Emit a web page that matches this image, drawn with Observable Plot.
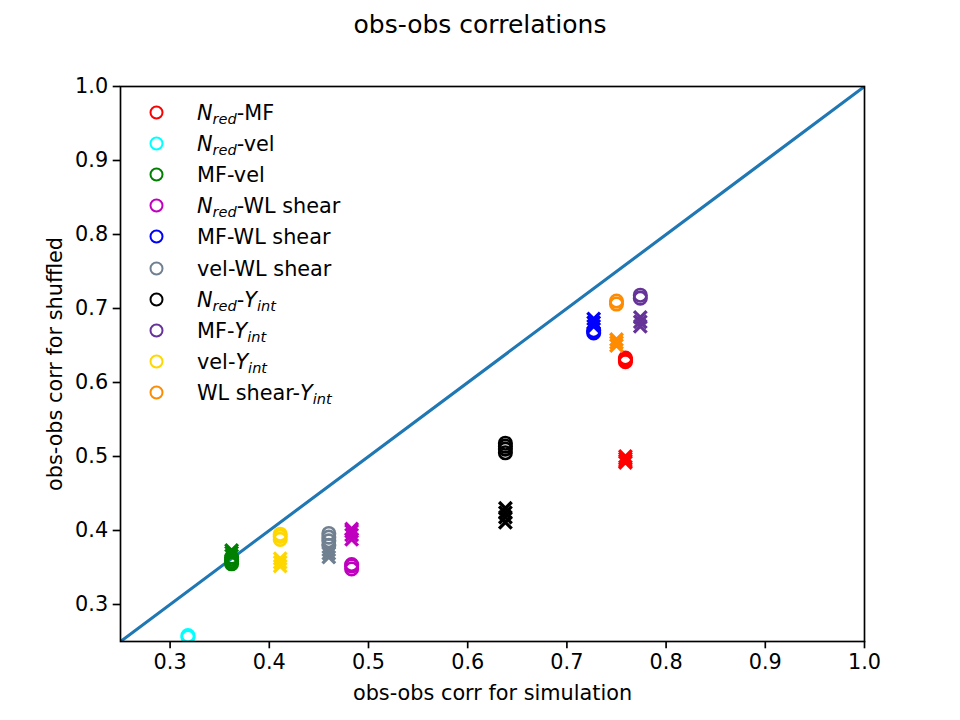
<!DOCTYPE html>
<html>
<head>
<meta charset="utf-8">
<script src="https://cdn.jsdelivr.net/npm/d3@7"></script>
<script src="https://cdn.jsdelivr.net/npm/@observablehq/plot@0.6"></script>
<style>
  body { margin: 0; background: #fff; }
  #wrap { position: relative; width: 960px; height: 720px; font-family: "DejaVu Sans", sans-serif; color: #000; }
  #title { position: absolute; left: 0; width: 960px; top: 12px; text-align: center; font-size: 25px; line-height: 1; }
  #legend { position: absolute; left: 0; top: 0; }
  .row { position: absolute; height: 30px; display: flex; align-items: center; font-size: 20.8px; white-space: nowrap; }
  .row svg { position: absolute; }
  .row span.t { position: absolute; left: 47px; }
  .row sub { font-size: 70%; font-style: italic; vertical-align: -0.3em; line-height: 0; }
</style>
</head>
<body>
<div id="wrap">
  <div id="chart"></div>
  <div id="title">obs-obs correlations</div>
  <div id="legend"></div>
</div>
<script>
// ---- data ----
const seriesLabels = ["N_red-MF", "N_red-vel", "MF-vel", "N_red-WL shear", "MF-WL shear", "vel-WL shear", "N_red-Y_int", "MF-Y_int", "vel-Y_int", "WL shear-Y_int"];
const seriesHtml = [
  "<i>N</i><sub>red</sub>-MF",
  "<i>N</i><sub>red</sub>-vel",
  "MF-vel",
  "<i>N</i><sub>red</sub>-WL shear",
  "MF-WL shear",
  "vel-WL shear",
  "<i>N</i><sub>red</sub>-<i>Y</i><sub>int</sub>",
  "MF-<i>Y</i><sub>int</sub>",
  "vel-<i>Y</i><sub>int</sub>",
  "WL shear-<i>Y</i><sub>int</sub>"
];
const seriesColors = ["#ff0000", "#00ffff", "#008000", "#bf00bf", "#0000ff", "#708090", "#000000", "#663399", "#ffd700", "#ff8c00"];
// simulation correlation (x) for each pair
const simCorr = [0.759, 0.318, 0.362, 0.483, 0.727, 0.460, 0.638, 0.774, 0.411, 0.750];
// shuffled correlations shown as circles
const shuffledCircles = [
  [0.628, 0.631, 0.633, 0.630],
  [0.256, 0.258],
  [0.355, 0.358, 0.361, 0.364],
  [0.348, 0.352, 0.354],
  [0.667, 0.670],
  [0.380, 0.386, 0.391, 0.396],
  [0.505, 0.510, 0.514, 0.518],
  [0.714, 0.718],
  [0.388, 0.392, 0.395],
  [0.706, 0.710]
];
// shuffled correlations shown as crosses
const shuffledCrosses = [
  [0.492, 0.497, 0.500, 0.494],
  [],
  [0.366, 0.370, 0.373],
  [0.388, 0.394, 0.399, 0.402],
  [0.676, 0.681, 0.686],
  [0.364, 0.369, 0.374],
  [0.411, 0.418, 0.424, 0.430],
  [0.676, 0.682, 0.688],
  [0.352, 0.357, 0.362],
  [0.650, 0.654, 0.658]
];
const axisDomain = [0.25, 1.0];
const tickValues = [0.3, 0.4, 0.5, 0.6, 0.7, 0.8, 0.9, 1.0];

// ---- tables ----
const circles = [], crosses = [];
seriesLabels.forEach((s, i) => {
  shuffledCircles[i].forEach(v => circles.push({series: s, x: simCorr[i], y: v}));
  shuffledCrosses[i].forEach(v => crosses.push({series: s, x: simCorr[i], y: v}));
});

const fmt = d3.format(".1f");
const chart = Plot.plot({
  width: 960,
  height: 720,
  marginLeft: 120,
  marginRight: 96,
  marginTop: 86,
  marginBottom: 79,
  style: {fontFamily: "DejaVu Sans", fontSize: "20.8px", background: "#fff", color: "#000"},
  x: {domain: axisDomain},
  y: {domain: axisDomain},
  color: {domain: seriesLabels, range: seriesColors},
  marks: [
    Plot.line(axisDomain, {x: d => d, y: d => d, stroke: "#1f77b4", strokeWidth: 3.1, clip: true}),
    Plot.dot(circles, {x: "x", y: "y", stroke: "series", fill: "none", r: 6.25, strokeWidth: 2.6, clip: true}),
    Plot.dot(crosses, {x: "x", y: "y", stroke: "series", symbol: "times", r: 5.8, strokeWidth: 3.3, clip: true}),
    Plot.frame({stroke: "#000", strokeWidth: 1.67}),
    Plot.axisX({ticks: tickValues, tickFormat: fmt, tickSize: 7.3, tickPadding: 5, strokeWidth: 1.67,
      label: "obs-obs corr for simulation", labelAnchor: "center", labelArrow: "none", labelOffset: 58, fontSize: "20.8px"}),
    Plot.axisY({ticks: tickValues, tickFormat: fmt, tickSize: 7.3, tickPadding: 5, strokeWidth: 1.67,
      label: "obs-obs corr for shuffled", labelAnchor: "center", labelArrow: "none", labelOffset: 73, fontSize: "20.8px"})
  ]
});
document.getElementById("chart").appendChild(chart);

// ---- legend ----
const legend = document.getElementById("legend");
seriesHtml.forEach((h, i) => {
  const row = document.createElement("div");
  row.className = "row";
  row.style.left = "150px";
  row.style.top = (113 + i * 31.1 - 15) + "px";
  row.innerHTML = `<svg width="15" height="15" style="left:-1px;top:7px"><circle cx="7.5" cy="7.5" r="6" fill="none" stroke="${seriesColors[i]}" stroke-width="2"/></svg><span class="t">${h}</span>`;
  legend.appendChild(row);
});
</script>
</body>
</html>
